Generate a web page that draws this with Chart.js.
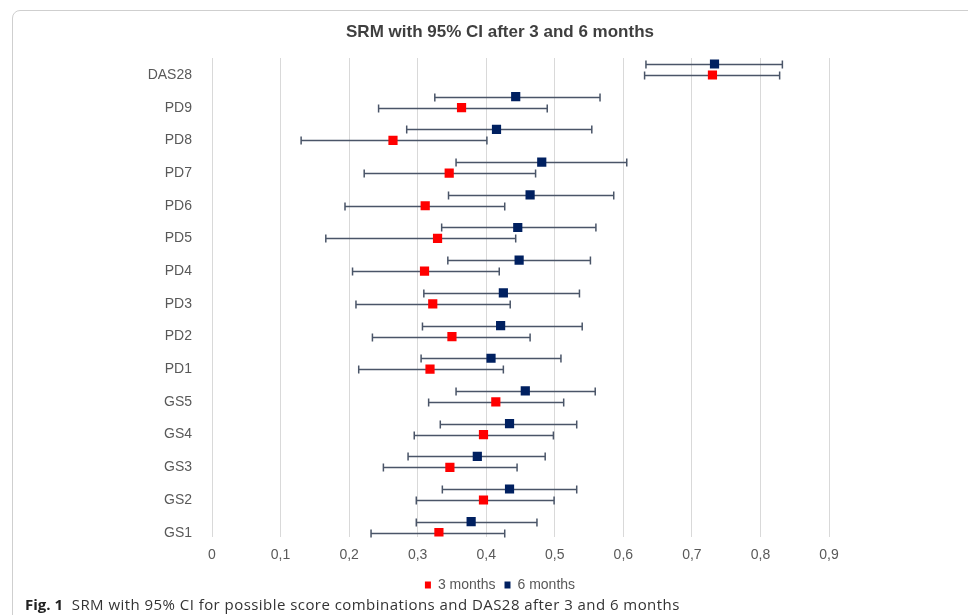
<!DOCTYPE html>
<html>
<head>
<meta charset="utf-8">
<script src="https://cdn.jsdelivr.net/npm/chart.js@4/dist/chart.umd.min.js"></script>
<style>
  body { margin: 0; width: 968px; height: 615px; overflow: hidden; background: #fff; position: relative; }
  #frame { position: absolute; left: 12px; top: 10px; width: 1000px; height: 700px;
           border: 1px solid #cfcfcf; border-top-left-radius: 8px; }
  #chart { position: absolute; left: 0; top: 0; }
  #caption { position: absolute; left: 25px; top: 594px; font: 15px "Open Sans", "Liberation Sans", sans-serif;
             color: #333; white-space: nowrap; letter-spacing: 0.45px; }
  #caption b { color: #222; letter-spacing: 0; }
</style>
</head>
<body>
<div id="frame"></div>
<canvas id="chart" width="968" height="615"></canvas>
<div id="caption"><b>Fig. 1</b>&nbsp; SRM with 95% CI for possible score combinations and DAS28 after 3 and 6 months</div>
<script>
// categories from top to bottom
const categories = ["DAS28","PD9","PD8","PD7","PD6","PD5","PD4","PD3","PD2","PD1","GS5","GS4","GS3","GS2","GS1"];

// 3 months: SRM and 95% CI
const m3    = [0.730,0.364,0.264,0.346,0.311,0.329,0.310,0.322,0.350,0.318,0.414,0.396,0.347,0.396,0.331];
const m3Lo  = [0.631,0.243,0.130,0.222,0.194,0.166,0.205,0.210,0.234,0.214,0.316,0.295,0.250,0.298,0.232];
const m3Hi  = [0.828,0.489,0.401,0.472,0.427,0.443,0.419,0.435,0.464,0.425,0.513,0.498,0.445,0.499,0.427];

// 6 months: SRM and 95% CI
const m6    = [0.733,0.443,0.415,0.481,0.464,0.446,0.448,0.425,0.421,0.407,0.457,0.434,0.387,0.434,0.378];
const m6Lo  = [0.633,0.325,0.284,0.356,0.345,0.335,0.344,0.309,0.307,0.305,0.356,0.333,0.286,0.336,0.298];
const m6Hi  = [0.832,0.566,0.554,0.605,0.586,0.560,0.552,0.536,0.540,0.509,0.559,0.532,0.486,0.532,0.474];

const xTickLabels = ["0","0,1","0,2","0,3","0,4","0,5","0,6","0,7","0,8","0,9"];

const n = categories.length;
const shift6 = 0.336; // 6 months sits a bit above the 3 months row

function points(vals, lo, hi, off){
  return vals.map((v,i)=>({x: v, y: n-1-i+off, lo: lo[i], hi: hi[i]}));
}

const errorBars = {
  id: "errorBars",
  beforeDatasetsDraw(chart){
    const {ctx, scales:{x, y}} = chart;
    ctx.save();
    ctx.strokeStyle = "#4a5568";
    ctx.lineWidth = 1.5;
    chart.data.datasets.forEach(ds=>{
      ds.data.forEach(p=>{
        const py = Math.round(y.getPixelForValue(p.y))+0.5;
        const xl = x.getPixelForValue(p.lo), xh = x.getPixelForValue(p.hi);
        ctx.beginPath();
        ctx.moveTo(xl, py); ctx.lineTo(xh, py);
        ctx.moveTo(xl, py-4); ctx.lineTo(xl, py+4);
        ctx.moveTo(xh, py-4); ctx.lineTo(xh, py+4);
        ctx.stroke();
      });
    });
    ctx.restore();
  }
};

const font = "'Liberation Sans', Arial, sans-serif";

new Chart(document.getElementById("chart"), {
  type: "scatter",
  data: {
    datasets: [
      {
        label: "3 months",
        data: points(m3, m3Lo, m3Hi, 0),
        backgroundColor: "#ff0000",
        borderColor: "#ff0000",
        borderWidth: 0,
        pointStyle: "rect",
        pointRadius: 6.5,
        pointHoverRadius: 6.5
      },
      {
        label: "6 months",
        data: points(m6, m6Lo, m6Hi, shift6),
        backgroundColor: "#002060",
        borderColor: "#002060",
        borderWidth: 0,
        pointStyle: "rect",
        pointRadius: 6.5,
        pointHoverRadius: 6.5
      }
    ]
  },
  options: {
    responsive: false,
    animation: false,
    layout: { padding: { left: 127, right: 95, top: 0, bottom: 13 } },
    plugins: {
      title: {
        display: true,
        text: "SRM with 95% CI after 3 and 6 months",
        color: "#3f3f3f",
        font: { family: font, size: 17, weight: "bold" },
        padding: { top: 21.8, bottom: 15.8 }
      },
      legend: {
        position: "bottom",
        labels: {
          color: "#595959",
          font: { family: font, size: 14 },
          boxWidth: 6,
          boxHeight: 7,
          padding: 9
        }
      },
      tooltip: { enabled: false }
    },
    scales: {
      x: {
        type: "linear",
        min: 0,
        max: 0.9,
        afterFit: s => { s.height = 32.4; },
        ticks: {
          stepSize: 0.1,
          color: "#595959",
          font: { family: font, size: 14 },
          padding: 10.4,
          callback: (v, i) => xTickLabels[i]
        },
        grid: { color: "#d9d9d9", drawTicks: false },
        border: { display: false }
      },
      y: {
        type: "linear",
        min: -0.12,
        max: 14.52,
        afterBuildTicks: s => { s.ticks = categories.map((c,i)=>({value: i})); },
        afterFit: s => { s.width = 85; },
        ticks: {
          color: "#595959",
          font: { family: font, size: 14 },
          padding: 12,
          callback: v => categories[n-1-v]
        },
        grid: { display: false },
        border: { display: false }
      },
      // empty right-hand strip so the title and legend centre like the original
      yRight: {
        type: "linear",
        position: "right",
        afterFit: s => { s.width = 44; },
        ticks: { display: false },
        grid: { display: false },
        border: { display: false }
      }
    }
  },
  plugins: [errorBars]
});
</script>
</body>
</html>
